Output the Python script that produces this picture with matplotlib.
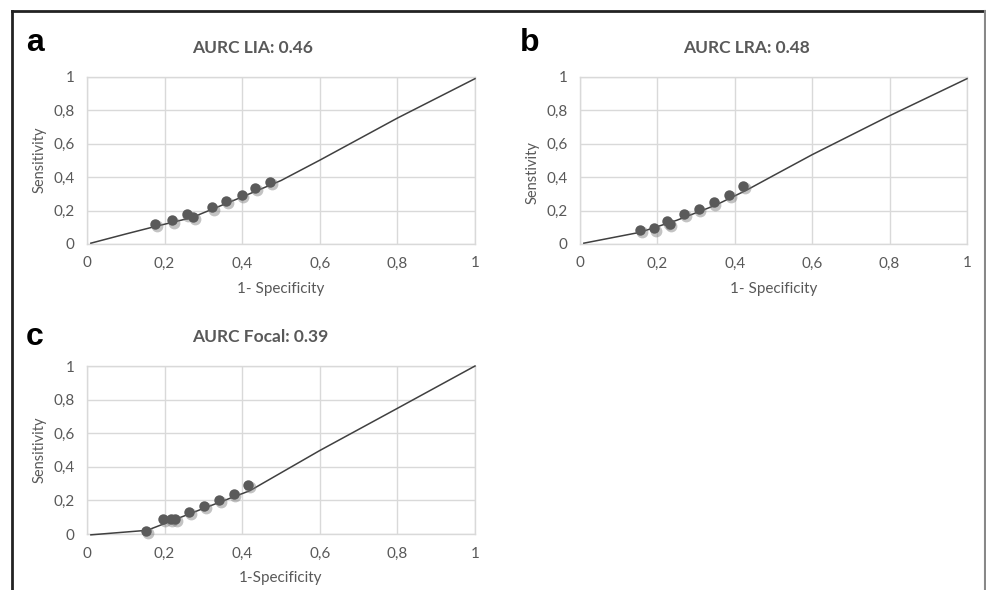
import matplotlib
matplotlib.use('Agg')
import matplotlib.pyplot as plt
import matplotlib.transforms as mtransforms
from matplotlib.lines import Line2D

# points (1-specificity, sensitivity)
liaX = [0.176, 0.219, 0.257, 0.274, 0.322, 0.358, 0.399, 0.434, 0.472]
liaY = [0.121, 0.141, 0.179, 0.163, 0.219, 0.256, 0.296, 0.338, 0.374]
lraX = [0.155, 0.192, 0.225, 0.232, 0.270, 0.307, 0.345, 0.385, 0.422]
lraY = [0.085, 0.093, 0.135, 0.122, 0.181, 0.209, 0.249, 0.294, 0.346]
focalX = [0.153, 0.196, 0.216, 0.228, 0.263, 0.302, 0.340, 0.378, 0.415]
focalY = [0.020, 0.087, 0.088, 0.090, 0.131, 0.167, 0.201, 0.239, 0.290]

# fitted curves
liaCurveX = [0.01, 0.10, 0.176, 0.27, 0.40, 0.50, 0.60, 0.80, 1.0]
liaCurveY = [0.005, 0.06, 0.105, 0.158, 0.282, 0.380, 0.502, 0.754, 0.99]
lraCurveX = [0.01, 0.155, 0.25, 0.35, 0.43, 0.50, 0.60, 0.80, 1.0]
lraCurveY = [0.005, 0.07, 0.142, 0.232, 0.322, 0.410, 0.535, 0.768, 0.99]
focalCurveX = [0.01, 0.155, 0.20, 0.30, 0.42, 0.60, 0.80, 1.0]
focalCurveY = [-0.005, 0.022, 0.062, 0.152, 0.258, 0.497, 0.748, 1.0]

ticks = [0, 0.2, 0.4, 0.6, 0.8, 1]
tickLabels = ['0', '0,2', '0,4', '0,6', '0,8', '1']

panels = [
    ('a', 'AURC LIA: 0.46', 'Sensitivity', '1- Specificity', liaX, liaY, liaCurveX, liaCurveY),
    ('b', 'AURC LRA: 0.48', 'Senstivity', '1- Specificity', lraX, lraY, lraCurveX, lraCurveY),
    ('c', 'AURC Focal: 0.39', 'Sensitivity', '1-Specificity', focalX, focalY, focalCurveX, focalCurveY),
]

W, H = 986, 590
# plot area rectangles in pixels (left, top, right, bottom)
boxes = [(87, 77, 475, 244), (580, 77, 967, 244), (87, 366, 475, 534)]
titlePos = [(253, 48), (746, 48), (260, 337)]
letterPos = [(26, 43), (520, 43), (26, 337)]
ylabPos = [(40, 160), (533, 173), (40, 450)]
xlabPos = [(281, 289), (774, 289), (281, 578)]

gray = '#595959'
font = 'Lato'

fig = plt.figure(figsize=(W / 100, H / 100), dpi=100)

for i, (letter, title, ylab, xlab, px, py, cx, cy) in enumerate(panels):
    l, t, r, b = boxes[i]
    ax = fig.add_axes([l / W, 1 - b / H, (r - l) / W, (b - t) / H])
    ax.set_xlim(0, 1)
    ax.set_ylim(0, 1)
    ax.set_xticks(ticks)
    ax.set_yticks(ticks)
    ax.set_xticklabels(tickLabels, fontsize=11, color=gray, family=font)
    ax.set_yticklabels(tickLabels, fontsize=11, color=gray, family=font)
    ax.tick_params(length=0, pad=9)
    ax.grid(True, color='#d9d9d9', linewidth=1)
    ax.set_axisbelow(True)
    for s in ax.spines.values():
        s.set_color('#d9d9d9')
        s.set_linewidth(1)

    ax.plot(cx, cy, color='#404040', linewidth=1.1, zorder=3, clip_on=False)
    shadow = mtransforms.offset_copy(ax.transData, fig=fig, x=1.2, y=-1.5, units='points')
    ax.plot(px, py, 'o', color='#7a7a7a', markersize=8.5, alpha=0.45, transform=shadow,
            markeredgewidth=0, zorder=4, clip_on=False)
    ax.plot(px, py, 'o', color='#5a5a5a', markersize=7.5, markeredgewidth=0,
            zorder=5, clip_on=False)

    fig.text(titlePos[i][0] / W, 1 - titlePos[i][1] / H, title, ha='center', va='center',
             fontsize=12.5, fontweight='bold', color=gray, family=font)
    fig.text(letterPos[i][0] / W, 1 - letterPos[i][1] / H, letter, ha='left', va='center',
             fontsize=23, fontweight='bold', color='black', family='Liberation Sans')
    fig.text(ylabPos[i][0] / W, 1 - ylabPos[i][1] / H, ylab, ha='center', va='center',
             rotation=90, fontsize=10.5, color=gray, family=font)
    fig.text(xlabPos[i][0] / W, 1 - xlabPos[i][1] / H, xlab, ha='center', va='center',
             fontsize=11, color=gray, family=font)

# outer frame of the figure
fig.add_artist(Line2D([12 / W, 12 / W], [0, 1 - 11 / H], transform=fig.transFigure,
                      color='#222222', linewidth=2))
fig.add_artist(Line2D([12 / W, 985 / W], [1 - 11 / H, 1 - 11 / H], transform=fig.transFigure,
                      color='#222222', linewidth=2))
fig.add_artist(Line2D([985 / W, 985 / W], [0, 1 - 11 / H], transform=fig.transFigure,
                      color='#888888', linewidth=1.5))

fig.savefig('out.png', dpi=100)
plt.close('all')
